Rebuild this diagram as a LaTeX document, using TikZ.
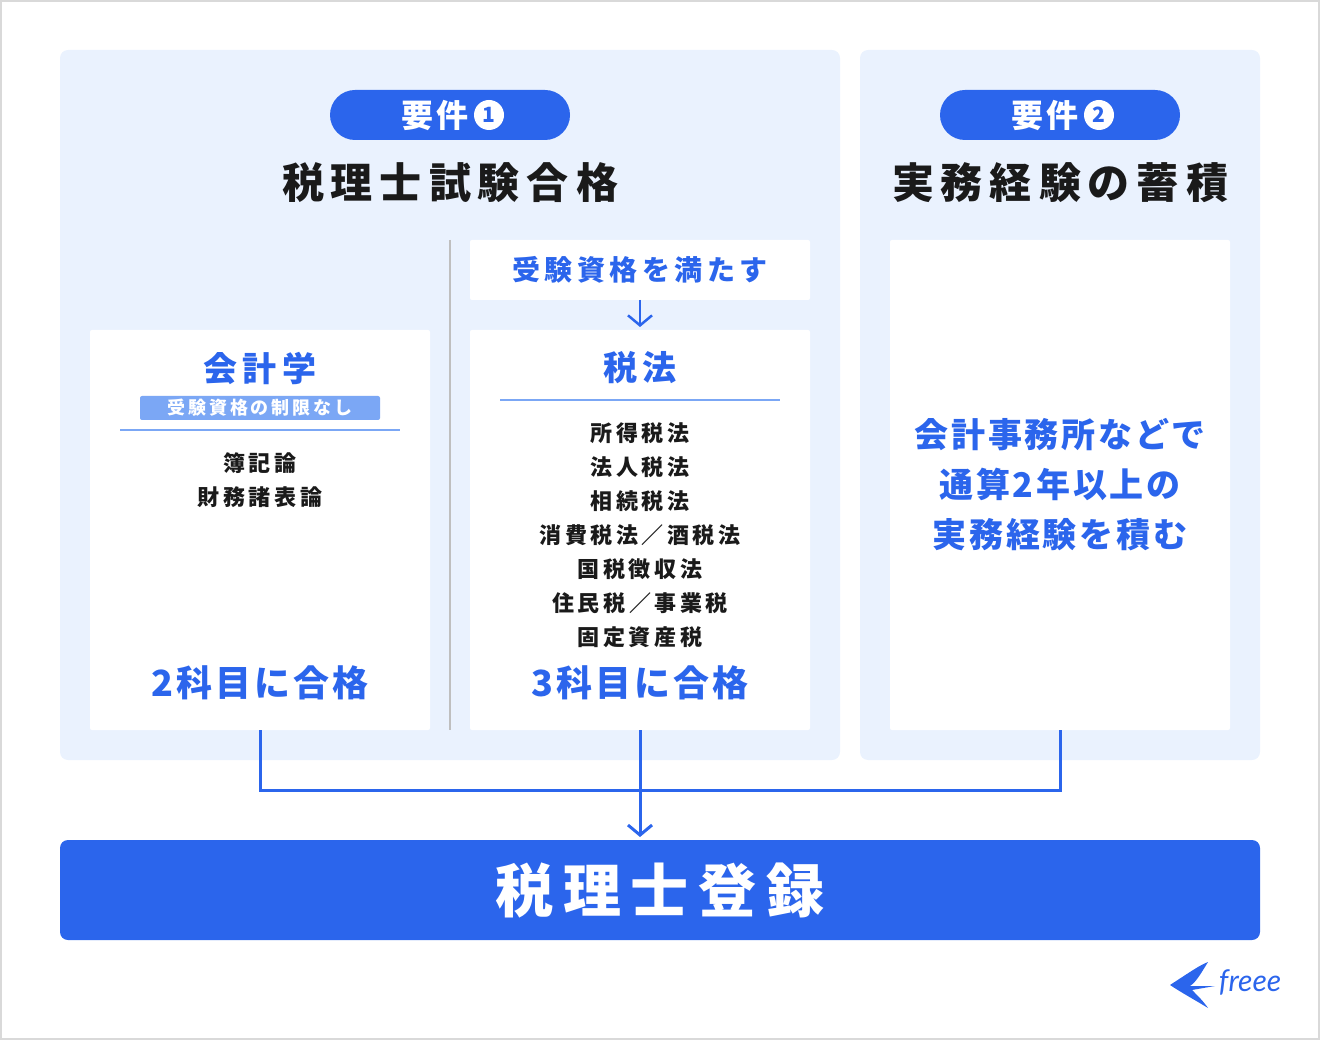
\documentclass[tikz,border=0pt]{standalone}
\usepackage{fontspec}
\setmainfont{Noto Sans CJK JP}[LetterSpace=8]
\newfontfamily\wide{Noto Sans CJK JP}[LetterSpace=16]
\newfontfamily\lat{Lato}
\usetikzlibrary{arrows.meta}
\definecolor{fb}{HTML}{2B65EC}
\definecolor{pan}{HTML}{EAF2FE}
\definecolor{lab}{HTML}{7BA7F5}
\definecolor{txt}{HTML}{1A1A1A}
\begin{document}
\begin{tikzpicture}[x=1pt,y=-1pt,
 fs/.style={font=\fontsize{#1}{#1}\selectfont\bfseries},
 panel/.style={fill=pan,rounded corners=8pt},
 wbox/.style={fill=white,rounded corners=2pt},
 pill/.style={fill=fb,rounded corners=25pt},
 conn/.style={draw=fb,line width=3pt},
 tip/.style={-{Straight Barb[length=10pt,width=24pt]}}]
\useasboundingbox (0,0) rectangle (1320,1040);
\draw[draw=black!15,line width=2pt] (1,1) rectangle (1319,1039);
\fill[panel] (60,50) rectangle (840,760);
\fill[panel] (860,50) rectangle (1260,760);
% pills
\fill[pill] (330,90) rectangle (570,140);
\node[fs=32,text=white,anchor=east] (p1) at (472,115) {要件};
\node[circle,fill=white,inner sep=0pt,minimum size=30pt,fs=21,text=fb] (c1) at (489,115) {1};
\fill[pill] (940,90) rectangle (1180,140);
\node[fs=32,text=white,anchor=east] (p2) at (1082,115) {要件};
\node[circle,fill=white,inner sep=0pt,minimum size=30pt,fs=21,text=fb] (c2) at (1099,115) {2};
\node[fs=42,text=txt] (t1) at (450,183) {税\,理\,士\,試\,験\,合\,格};
\node[fs=42,text=txt] (t2) at (1060,183) {実\,務\,経\,験\,の\,蓄\,積};
% divider
\draw[black!25,line width=1.5pt] (450,240) -- (450,730);
% boxes
\fill[wbox] (90,330) rectangle (430,730);
\fill[wbox] (470,330) rectangle (810,730);
\fill[wbox] (470,240) rectangle (810,300);
\fill[wbox] (890,240) rectangle (1230,730);
\node[font=\wide\fontsize{28}{28}\selectfont\bfseries,text=fb] (req) at (640,270) {受験資格を満たす};
\coordinate (rb) at (640,300);
\coordinate (zt) at (640,327);
\draw[draw=fb,line width=2.5pt,tip] (rb) -- (zt);
% left
\node[font=\wide\fontsize{34}{34}\selectfont\bfseries,text=fb] (kai) at (260,368) {会計学};
\fill[lab,rounded corners=2pt] (140,396) rectangle (380,420);
\node[font=\wide\fontsize{18}{18}\selectfont\bfseries,text=white] (nolim) at (260,408) {受験資格の制限なし};
\draw[lab,line width=1.5pt] (120,430) -- (400,430);
\node[text=txt,align=center,font=\wide\fontsize{22}{34}\selectfont\bfseries] (kl) at (260,480) {簿記論\\財務諸表論};
\node[fs=36,text=fb] (k2) at (260,683) {2科目に合格};
% middle
\node[font=\wide\fontsize{34}{34}\selectfont\bfseries,text=fb] (zei) at (640,368) {税法};
\draw[lab,line width=1.5pt] (500,400) -- (780,400);
\node[text=txt,align=center,font=\wide\fontsize{22}{34}\selectfont\bfseries] (zl) at (640,535) {所得税法\\法人税法\\相続税法\\消費税法／酒税法\\国税徴収法\\住民税／事業税\\固定資産税};
\node[fs=36,text=fb] (z3) at (640,683) {3科目に合格};
% right
\node[text=fb,align=center,font=\fontsize{34}{50}\selectfont\bfseries] (jm) at (1060,485) {会計事務所などで\\通算2年以上の\\実務経験を積む};
% bottom
\fill[fb,rounded corners=8pt] (60,840) rectangle (1260,940);
\node[fs=58,text=white] (reg) at (660,890) {税\,理\,士\,登\,録};
% connectors
\coordinate (a) at (260,730); \coordinate (b) at (1060,730);
\coordinate (m) at (640,730); \coordinate (e) at (640,837);
\draw[conn] (a) |- (640,790) -| (b);
\draw[conn,tip] (m) -- (e);
% logo
\fill[fb] (1170,985) .. controls (1190,972) and (1200,965) .. (1208,962) .. controls (1200,975) and (1196,982) .. (1190,986) -- (1215,986) -- (1192,990) .. controls (1198,996) and (1204,1002) .. (1208,1008) .. controls (1195,1000) and (1182,993) .. (1170,985) -- cycle;
\node[font=\lat\itshape\fontsize{30}{30}\selectfont,text=fb] (logo) at (1250,982) {freee};
\end{tikzpicture}
\end{document}
